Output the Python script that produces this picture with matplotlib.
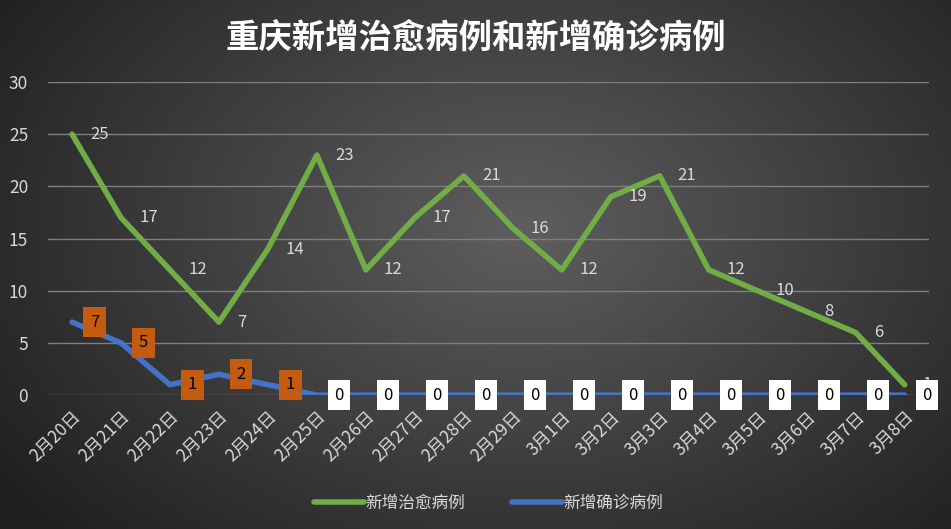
import numpy as np
import matplotlib
matplotlib.use("Agg")
import matplotlib.pyplot as plt

plt.rcParams['font.family'] = ['Noto Sans CJK SC', 'DejaVu Sans']

dates = ['2月20日', '2月21日', '2月22日', '2月23日', '2月24日', '2月25日', '2月26日',
         '2月27日', '2月28日', '2月29日', '3月1日', '3月2日', '3月3日', '3月4日',
         '3月5日', '3月6日', '3月7日', '3月8日']
cured = [25, 17, 12, 7, 14, 23, 12, 17, 21, 16, 12, 19, 21, 12, 10, 8, 6, 1]
confirmed = [7, 5, 1, 2, 1, 0, 0, 0, 0, 0, 0, 0, 0, 0, 0, 0, 0, 0]

green = '#70ad47'
blue = '#4472c4'
txt = '#d9d9d9'

fig = plt.figure(figsize=(9.51, 5.29), dpi=100)

# radial gradient background
bg = fig.add_axes([0, 0, 1, 1])
yy, xx = np.mgrid[0:529, 0:951]
r = np.sqrt(((xx - 520) / 620.0) ** 2 + ((yy - 230) / 430.0) ** 2)
shade = np.clip(0.37 - 0.24 * r, 0.12, 0.37)
bg.imshow(np.dstack([shade, shade, shade]), aspect='auto', extent=[0, 1, 0, 1])
bg.axis('off')

ax = fig.add_axes([0.05, 0.253, 0.927, 0.592])
ax.set_facecolor('none')
x = np.arange(len(dates))

ax.plot(x, cured, color=green, lw=4, solid_capstyle='round', solid_joinstyle='round', zorder=3)
ax.plot(x, confirmed, color=blue, lw=4, solid_capstyle='round', solid_joinstyle='round', zorder=3)

for i, v in enumerate(cured):
    ax.annotate(str(v), (i, v), xytext=(13, 0), textcoords='offset points',
                color=txt, fontsize=12, va='center', ha='left', zorder=4)

for i, v in enumerate(confirmed):
    fc = '#c55a11' if v > 0 else 'white'
    ax.annotate(str(v), (i, v), xytext=(16, 0), textcoords='offset points',
                color='black', fontsize=12, va='center', ha='center', zorder=5,
                bbox=dict(boxstyle='square,pad=0.4', fc=fc, ec='none'))

ax.set_xlim(-0.5, len(dates) - 0.5)
ax.set_ylim(0, 30)
ax.set_yticks([0, 5, 10, 15, 20, 25, 30])
ax.set_xticks(x)
ax.set_xticklabels(dates, rotation=45, ha='right', va='top', rotation_mode='anchor')
ax.tick_params(axis='both', colors=txt, labelsize=12.5, length=0)
ax.tick_params(axis='x', pad=9)
ax.tick_params(axis='y', pad=14)
ax.grid(axis='y', color='#7f7f7f', lw=1)
ax.set_axisbelow(True)
for s in ax.spines.values():
    s.set_visible(False)

fig.text(0.5, 0.928, '重庆新增治愈病例和新增确诊病例', color='white', fontsize=24,
         fontweight='bold', ha='center', va='center')

leg = ax.legend(['新增治愈病例', '新增确诊病例'], loc='center', bbox_to_anchor=(0.5, -0.345),
                ncol=2, frameon=False, fontsize=12, handlelength=3.0, columnspacing=2.8,
                handletextpad=0.1)
for t in leg.get_texts():
    t.set_color(txt)

fig.savefig('out.png', dpi=100)
